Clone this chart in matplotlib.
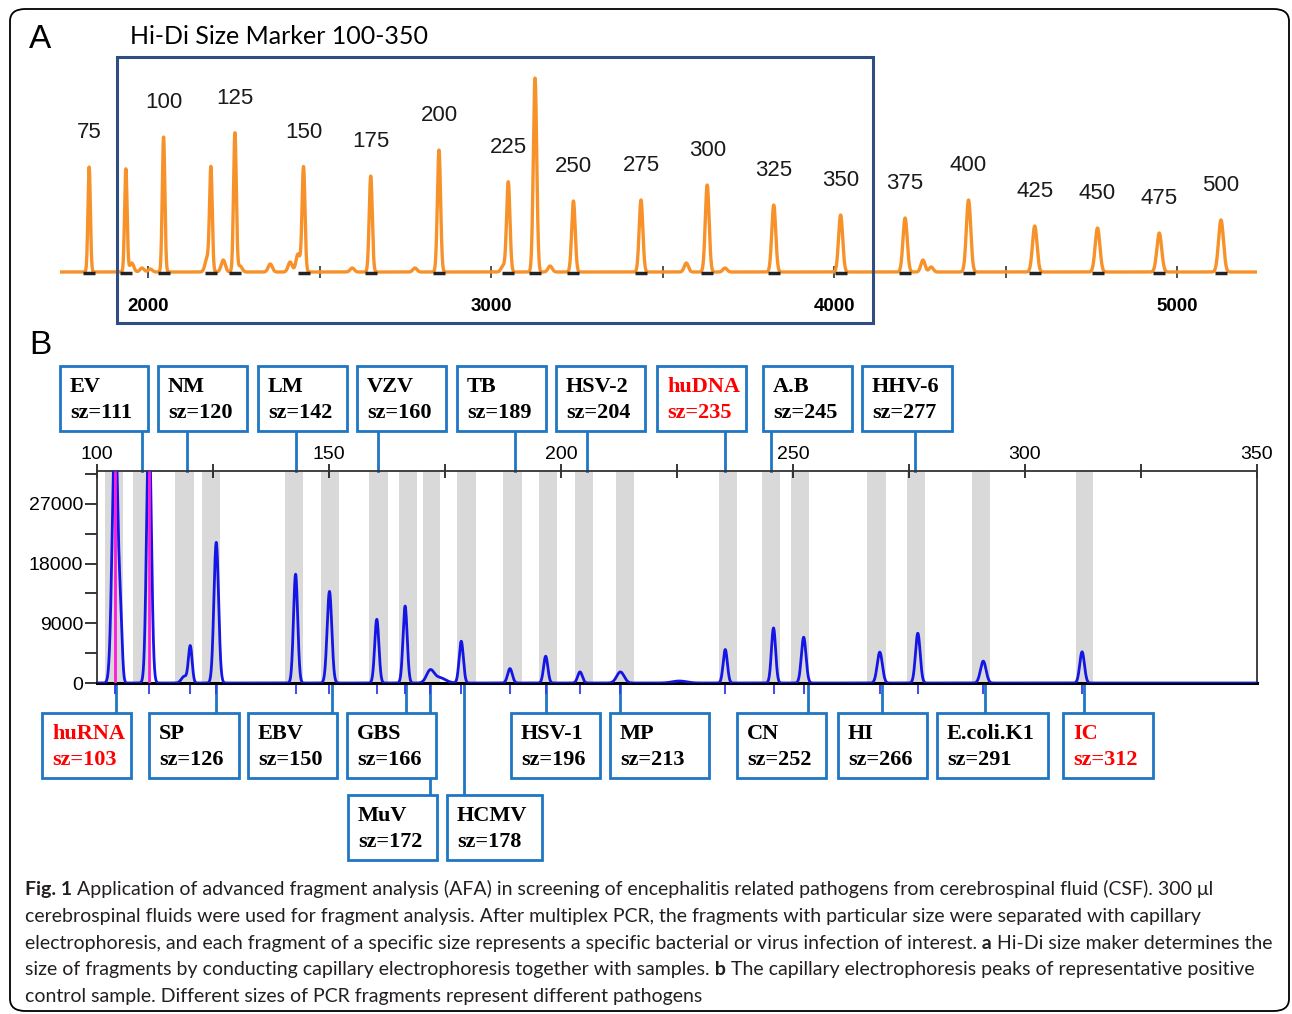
import numpy as np
import matplotlib.pyplot as plt
from matplotlib.patches import Rectangle, FancyBboxPatch
from matplotlib.transforms import blended_transform_factory

# ---------------- panel A : Hi-Di size marker (orange trace) ----------------
ladder_size = [75, 100, 125, 150, 175, 200, 225, 250, 275, 300, 325, 350,
               375, 400, 425, 450, 475, 500]
ladder_pos = [1828, 2045, 2253, 2453, 2649, 2848, 3050, 3240, 3437, 3630, 3824,
              4019, 4207, 4392, 4585, 4768, 4948, 5128]
ladder_height = [105, 135, 139, 105, 96, 122, 90, 71, 72, 87, 67, 57, 54, 72,
                 46, 44, 39, 52]
# unlabelled peaks
extra_pos = [1935, 2183, 3128]
extra_height = [103, 103, 194]
# small baseline bumps
noise_pos = [1952, 1982, 2006, 2172, 2219, 2268, 2356, 2414, 2437, 2595, 2778,
             3035, 3172, 3569, 3682, 4259, 4283]
noise_height = [9, 4, 3, 14, 12, 6, 8, 10, 18, 4, 4, 6, 6, 9, 4, 12, 5]
scan_ticks = [2000, 2500, 3000, 3500, 4000, 4500, 5000]
scan_labels = ['2000', '', '3000', '', '4000', '', '5000']

# ---------------- panel B : positive control sample (blue trace) ----------------
peak_bp = [103.9, 105.1, 111.2, 118.8, 120.1, 125.7, 142.8, 150.1, 160.3, 166.4,
           171.8, 173.8, 178.5, 189.0, 196.7, 204.1, 212.8, 225.5, 235.4, 245.8,
           252.3, 268.7, 276.9, 291.0, 312.3]
peak_rfu = [40000, 7400, 40000, 1000, 5550, 21200, 16400, 13800, 9600, 11600,
            1770, 800, 6300, 2170, 4040, 1670, 1670, 300, 5050, 8300,
            6900, 4650, 7500, 3300, 4700]
peak_sd = [0.6, 0.35, 0.5, 0.6, 0.4, 0.5, 0.45, 0.5, 0.45, 0.45,
           0.8, 1.3, 0.45, 0.5, 0.45, 0.5, 0.8, 1.5, 0.45, 0.45,
           0.5, 0.55, 0.5, 0.6, 0.5]
called_bp = [103.9, 111.2, 120.1, 125.7, 142.8, 150.1, 160.3, 166.4, 171.8, 178.5,
             189.0, 196.7, 204.1, 212.8, 235.4, 245.8, 252.3, 268.7, 276.9, 291.0,
             312.3]
control_bp = [103.9, 111.2]
bin_lo = [101.8, 107.8, 116.9, 122.6, 140.6, 148.2, 158.7, 165.0, 170.2, 177.6,
          187.5, 195.2, 203.0, 211.8, 234.0, 243.4, 249.5, 266.0, 274.5, 288.6,
          310.9]
bin_hi = [105.7, 111.0, 120.9, 126.6, 144.5, 152.2, 162.7, 168.9, 173.9, 181.6,
          191.5, 199.2, 207.0, 215.8, 237.9, 247.3, 253.5, 270.0, 278.5, 292.5,
          314.7]

top_names = ['EV', 'NM', 'LM', 'VZV', 'TB', 'HSV-2', 'huDNA', 'A.B', 'HHV-6']
top_sz = [111, 120, 142, 160, 189, 204, 235, 245, 277]
top_link = [109.7, 119.5, 142.8, 160.6, 190.0, 205.7, 235.4, 245.3, 276.2]

bot_names = ['huRNA', 'SP', 'EBV', 'GBS', 'MuV', 'HCMV', 'HSV-1', 'MP', 'CN',
             'HI', 'E.coli.K1', 'IC']
bot_sz = [103, 126, 150, 166, 172, 178, 196, 213, 252, 266, 291, 312]
bot_link = [104.0, 125.7, 150.7, 166.6, 171.8, 179.0, 196.8, 212.8, 253.3,
            269.1, 291.3, 312.8]
controls = ['huRNA', 'huDNA', 'IC']

# box layout in pixels (x0, x1, top)
top_boxes = [(60, 148), (158, 247), (258, 347), (357, 446), (457, 546),
             (556, 645), (657, 746), (763, 852), (862, 952)]
bot_boxes = [(42, 131, 713), (149, 239, 713), (248, 337, 713), (347, 436, 713),
             (348, 437, 795), (447, 542, 795), (511, 600, 713), (610, 709, 713),
             (737, 826, 713), (838, 927, 713), (937, 1048, 713), (1063, 1153, 713)]

caption = [
    [('Fig. 1', 'bold'), (' Application of advanced fragment analysis (AFA) in screening of '
                          'encephalitis related pathogens from cerebrospinal fluid (CSF). 300 μl', 'normal')],
    [('cerebrospinal fluids were used for fragment analysis. After multiplex PCR, the fragments '
      'with particular size were separated with capillary', 'normal')],
    [('electrophoresis, and each fragment of a specific size represents a specific bacterial or '
      'virus infection of interest.', 'normal'), (' a', 'bold'),
     (' Hi-Di size maker determines the', 'normal')],
    [('size of fragments by conducting capillary electrophoresis together with samples.', 'normal'),
     (' b', 'bold'), (' The capillary electrophoresis peaks of representative positive', 'normal')],
    [('control sample. Different sizes of PCR fragments represent different pathogens', 'normal')],
]

W, H, DPI = 1292, 1014, 100
ORANGE = '#F7922A'
BOXBLUE = '#1F76C2'
TRACE = '#1515E6'


def px_rect(x0, y0, x1, y1):
    return [x0 / W, 1 - y1 / H, (x1 - x0) / W, (y1 - y0) / H]


def fy(y):
    return 1 - y / H


fig = plt.figure(figsize=(W / DPI, H / DPI), dpi=DPI)

# outer rounded frame
fig.patches.append(FancyBboxPatch((10 / W, fy(1011)), 1279 / W, 1002 / H,
                                  boxstyle='round,pad=0,rounding_size=0.012',
                                  transform=fig.transFigure, fill=False,
                                  ec='black', lw=1.3))

# ---- panel A ----
axA = fig.add_axes(px_rect(60, 60, 1257, 320))
xa = np.linspace(1743, 5233, 8000)
ya = np.zeros_like(xa)
for p, h in zip(ladder_pos + extra_pos, ladder_height + extra_height):
    sd = 3.5 + (p - 1800) / 900
    ya += h * np.exp(-0.5 * ((xa - p) / sd) ** 2)
for p, h in zip(noise_pos, noise_height):
    ya += h * np.exp(-0.5 * ((xa - p) / 6) ** 2)
axA.plot(xa, ya, color=ORANGE, lw=2.4, solid_joinstyle='round')
axA.plot(ladder_pos + extra_pos, [-1] * len(ladder_pos + extra_pos), ls='',
         marker='_', ms=9, mew=2.5, color='#222222')
for s, p, h in zip(ladder_size, ladder_pos, ladder_height):
    axA.annotate(str(s), (p, h), xytext=(0, 35), textcoords='offset pixels',
                 ha='center', va='center', fontsize=16, family='Liberation Sans',
                 color='#1a1a1a')
axA.set_xlim(1743, 5233)
axA.set_ylim(-48, 212)
for s in ['top', 'left', 'right']:
    axA.spines[s].set_visible(False)
axA.spines['bottom'].set_position(('data', 0))
axA.spines['bottom'].set_visible(False)
axA.set_yticks([])
axA.set_xticks(scan_ticks)
axA.set_xticklabels(scan_labels, fontsize=13.5, fontweight='bold',
                    family='Liberation Sans')
axA.tick_params(axis='x', direction='inout', length=9, width=1.2, pad=14,
                color='#333333')
axA.patch.set_alpha(0)

fig.patches.append(Rectangle((117 / W, fy(323)), 756 / W, 266 / H,
                             transform=fig.transFigure, fill=False,
                             ec='#2E4D80', lw=2.2))
fig.text(130 / W, fy(37), 'Hi-Di Size Marker 100-350', fontsize=18, family='Lato',
         va='center', ha='left')
fig.text(29 / W, fy(40), 'A', fontsize=24, family='Liberation Sans', va='center')
fig.text(29 / W, fy(346), 'B', fontsize=24, family='Liberation Sans', va='center')

# ---- panel B ----
axB = fig.add_axes(px_rect(97, 471, 1257, 683))
for lo, hi in zip(bin_lo, bin_hi):
    axB.axvspan(lo, hi, color='#D9D9D9', lw=0, zorder=0)
xb = np.linspace(100, 350, 10000)
yb = np.zeros_like(xb)
for p, h, sd in zip(peak_bp, peak_rfu, peak_sd):
    yb += h * np.exp(-0.5 * ((xb - p) / sd) ** 2)
axB.plot(xb, yb, color=TRACE, lw=2, zorder=3)
axB.vlines(control_bp, 0, 32000, color='#FF1AD9', lw=2, zorder=4)
axB.set_xlim(100, 350)
axB.set_ylim(0, 31950)
axB.xaxis.tick_top()
axB.set_xticks([100, 150, 200, 250, 300, 350])
axB.set_xticks([125, 175, 225, 275, 325], minor=True)
axB.tick_params(axis='x', which='both', direction='inout', length=10, width=1.1,
                pad=1, labelsize=14)
axB.set_yticks([0, 9000, 18000, 27000])
axB.set_yticks([4500, 13500, 22500, 31500], minor=True)
axB.tick_params(axis='y', which='both', direction='out', length=9, width=1.1,
                pad=1, labelsize=14)
for lab in axB.get_xticklabels() + axB.get_yticklabels():
    lab.set_family('Liberation Sans')
for s in ['top', 'left', 'right']:
    axB.spines[s].set_linewidth(1.3)
    axB.spines[s].set_color('#333333')
axB.spines['bottom'].set_linewidth(2.2)

tr = blended_transform_factory(axB.transData, fig.transFigure)
# short called-peak ticks under the baseline
axB.vlines(called_bp, fy(684), fy(694), transform=tr, color='#3535FF', lw=1.3,
           clip_on=False)


def draw_box(x0, x1, top, name, sz):
    col = 'red' if name in controls else 'black'
    fig.patches.append(Rectangle((x0 / W, fy(top + 65)), (x1 - x0) / W, 65 / H,
                                 transform=fig.transFigure, fc='white',
                                 ec=BOXBLUE, lw=2, zorder=5))
    for txt, dy in [(name, 21), ('sz=%d' % sz, 47)]:
        fig.text((x0 + 10) / W, fy(top + dy), txt, color=col, fontsize=16,
                 fontweight='bold', family='Liberation Serif', va='center',
                 zorder=6)


for (x0, x1), name, sz, bp in zip(top_boxes, top_names, top_sz, top_link):
    axB.plot([bp, bp], [fy(431), fy(471)], transform=tr, color=BOXBLUE, lw=2,
             clip_on=False)
    draw_box(x0, x1, 366, name, sz)

for (x0, x1, top), name, sz, bp in zip(bot_boxes, bot_names, bot_sz, bot_link):
    axB.plot([bp, bp], [fy(684), fy(top)], transform=tr, color=BOXBLUE, lw=2,
             clip_on=False, zorder=1)
    draw_box(x0, x1, top, name, sz)

# ---- caption ----
renderer = fig.canvas.get_renderer()


def run_width(runs, size):
    total = 0
    for s, w in runs:
        t = fig.text(0, 0, s, fontsize=size, fontweight=w, family='Lato')
        total += t.get_window_extent(renderer=renderer).width
        t.remove()
    return total


cap_size = 14 * 1248 / run_width(caption[2], 14)
for i, runs in enumerate(caption):
    x = 25
    for s, w in runs:
        t = fig.text(x / W, fy(895 + i * 26.8), s, fontsize=cap_size, fontweight=w,
                     family='Lato', va='baseline', color='#231F20')
        x += t.get_window_extent(renderer=renderer).width

fig.savefig('out.png', dpi=DPI)
